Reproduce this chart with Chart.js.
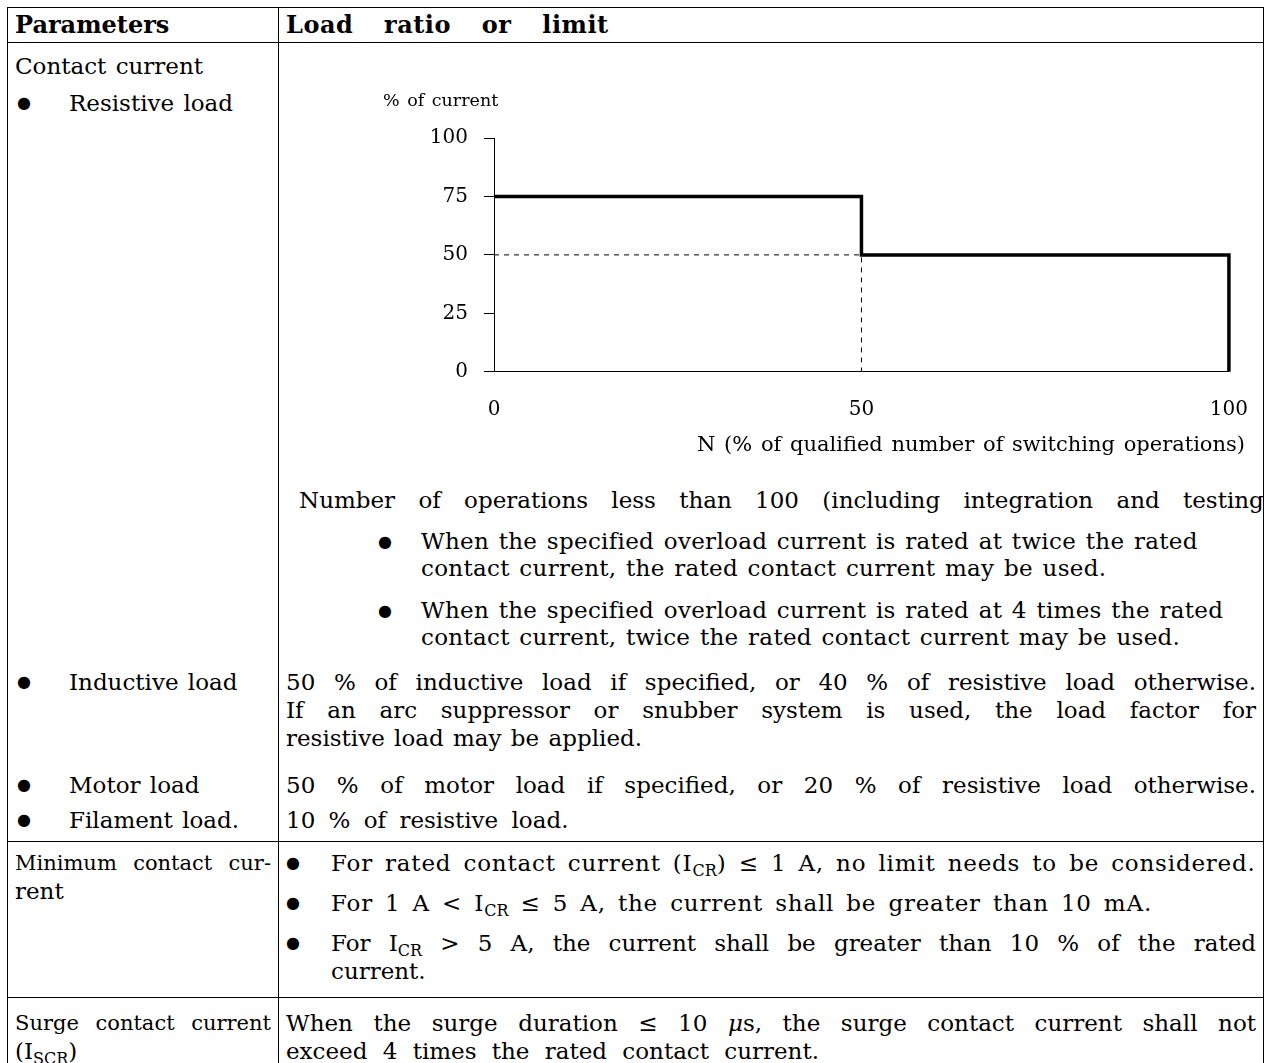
<!DOCTYPE html>
<html>
<head>
<meta charset="utf-8">
<script src="https://cdn.jsdelivr.net/npm/chart.js"></script>
<style>
body { margin: 0; background: #fff; width: 1271px; height: 1063px; overflow: hidden;
       font-family: "DejaVu Serif", serif; font-size: 23px; color: #000; }
table { position: absolute; left: 7px; top: 7px; width: 1256px; border-collapse: collapse;
        table-layout: fixed; line-height: 28px; word-spacing: 2px; }
td { vertical-align: top; padding: 0 7px; border-left: 1.5px solid #000; border-right: 1.5px solid #000; }
tr.rule td { border-top: 1.5px solid #000; }
tr.hd td { border-top: 1.5px solid #000; border-bottom: 1.5px solid #000; font-weight: bold;
           font-size: 24px; padding-top: 3px; padding-bottom: 3px; }
.b { position: relative; padding-left: 54px; }
.b:before { content: "\25CF"; position: absolute; left: 2px; top: 0; font-size: 16px; }
.rb { position: relative; padding-left: 135px; letter-spacing: 0.3px; }
.rb:before { content: "\25CF"; position: absolute; left: 92px; top: 0; font-size: 16px; }
.mb { position: relative; padding-left: 45px; }
.mb:before { content: "\25CF"; position: absolute; left: 0; top: 0; font-size: 16px; }
.wide { letter-spacing: 0.8px; word-spacing: 4px; }
.j { text-align: justify; text-align-last: justify; white-space: nowrap; word-spacing: 0; }
.lj { font-size: 21px; }
.nw { white-space: nowrap; }
sub { font-size: 16px; vertical-align: -5px; line-height: 0; letter-spacing: 0; }
#chartbox { position: relative; margin-left: -7px; width: 995px; height: 390px; margin-top: 39px; }
</style>
</head>
<body>
<table>
  <colgroup><col style="width:271px"><col style="width:985px"></colgroup>
  <tr class="hd">
    <td>Parameters</td>
    <td style="word-spacing:22px;letter-spacing:0.5px">Load ratio or limit</td>
  </tr>
  <tr>
    <td style="padding-top:9px">
      <div>Contact current</div>
      <div class="b" style="margin-top:9px">Resistive load</div>
    </td>
    <td style="padding-bottom:11px">
      <div id="chartbox"><canvas id="chart" width="995" height="390"></canvas></div>
      <div style="overflow:hidden;white-space:nowrap;margin-left:13px;margin-right:-7px;margin-top:14px;word-spacing:16px">Number of operations less than 100 (including integration and testing)</div>
      <div class="rb" style="margin-top:14px;line-height:27px">When the specified overload current is rated at twice the rated<br>contact current, the rated contact current may be used.</div>
      <div class="rb" style="margin-top:15px;line-height:27px">When the specified overload current is rated at 4 times the rated<br>contact current, twice the rated contact current may be used.</div>
    </td>
  </tr>
  <tr>
    <td style="padding-top:6px"><div class="b">Inductive load</div></td>
    <td style="padding-top:6px;padding-bottom:10px">
      <div class="j">50 % of inductive load if specified, or 40 % of resistive load otherwise.</div>
      <div class="j">If an arc suppressor or snubber system is used, the load factor for</div>
      <div>resistive load may be applied.</div>
    </td>
  </tr>
  <tr>
    <td style="padding-top:9px"><div class="b">Motor load</div></td>
    <td style="padding-top:9px"><div class="j">50 % of motor load if specified, or 20 % of resistive load otherwise.</div></td>
  </tr>
  <tr>
    <td style="padding-top:7px;padding-bottom:7px"><div class="b">Filament load.</div></td>
    <td style="padding-top:7px;padding-bottom:7px"><div style="word-spacing:6px">10 % of resistive load.</div></td>
  </tr>
  <tr class="rule">
    <td style="padding-top:7px">
      <div class="j lj">Minimum contact cur-</div>
      <div>rent</div>
    </td>
    <td style="padding-top:7px;padding-bottom:12px">
      <div class="mb nw wide">For rated contact current (I<sub>CR</sub>) ≤ 1 A, no limit needs to be considered.</div>
      <div class="mb nw wide" style="margin-top:12px">For 1 A &lt; I<sub>CR</sub> ≤ 5 A, the current shall be greater than 10 mA.</div>
      <div class="mb" style="margin-top:12px">
        <div class="j">For I<sub>CR</sub> &gt; 5 A, the current shall be greater than 10 % of the rated</div>
        <div>current.</div>
      </div>
    </td>
  </tr>
  <tr class="rule">
    <td style="padding-top:11px">
      <div class="j lj">Surge contact current</div>
      <div>(I<sub>SCR</sub>)</div>
    </td>
    <td style="padding-top:11px">
      <div class="j">When the surge duration ≤ 10 <i>μ</i>s, the surge contact current shall not</div>
      <div style="word-spacing:8px">exceed 4 times the rated contact current.</div>
    </td>
  </tr>
</table>
<script>
// resistive load derating curve
var stepX = [0, 50, 50, 100, 100];
var stepY = [75, 75, 50, 50, 0];
// dashed guide lines to the 50 % point
var guideX = [0, 50, 50];
var guideY = [50, 50, 0];
var yTicks = [0, 25, 50, 75, 100];
var xTicks = [0, 50, 100];
var yTitle = "% of current";
var xTitle = "N (% of qualified number of switching operations)";

function pts(xs, ys) {
    return xs.map(function (x, i) { return {x: x, y: ys[i]}; });
}

var serif = {family: "DejaVu Serif", size: 20};

new Chart("chart", {
    type: "scatter",
    data: {
        datasets: [{
            data: pts(stepX, stepY),
            showLine: true,
            borderColor: "#000",
            borderWidth: 3.5,
            pointRadius: 0,
            borderJoinStyle: "miter",
            clip: 6,
            order: 1
        }, {
            data: pts(guideX, guideY),
            showLine: true,
            borderColor: "#000",
            borderWidth: 1,
            borderDash: [5, 5],
            pointRadius: 0,
            order: 2
        }]
    },
    options: {
        responsive: false,
        animation: false,
        layout: {padding: {left: 104, right: 29, top: 0, bottom: 14}},
        plugins: {
            legend: {display: false},
            tooltip: {enabled: false},
            title: {
                display: true,
                text: yTitle,
                align: "start",
                color: "#000",
                font: {family: "DejaVu Serif", size: 17.5, weight: "normal"},
                padding: {top: 9, bottom: 26}
            },
            // x axis caption, right aligned past the end of the axis as in the original
            subtitle: {
                display: true,
                position: "bottom",
                text: xTitle,
                align: "end",
                color: "#000",
                font: {family: "DejaVu Serif", size: 21, weight: "normal"},
                padding: {top: 11, bottom: 0}
            }
        },
        scales: {
            x: {
                type: "linear",
                min: 0,
                max: 100,
                afterBuildTicks: function (s) { s.ticks = xTicks.map(function (v) { return {value: v}; }); },
                afterFit: function (s) { s.height = 50; },
                grid: {display: false, drawTicks: false, tickLength: 0},
                border: {display: true, color: "#000", width: 1},
                ticks: {color: "#000", font: serif, padding: 26, maxRotation: 0}
            },
            y: {
                min: 0,
                max: 100,
                afterBuildTicks: function (s) { s.ticks = yTicks.map(function (v) { return {value: v}; }); },
                afterFit: function (s) { s.width = 111; },
                grid: {drawOnChartArea: false, drawTicks: true, tickLength: 10, color: "#000", lineWidth: 1},
                border: {display: true, color: "#000", width: 1},
                ticks: {color: "#000", font: serif, padding: 16}
            }
        }
    }
});
</script>
</body>
</html>
